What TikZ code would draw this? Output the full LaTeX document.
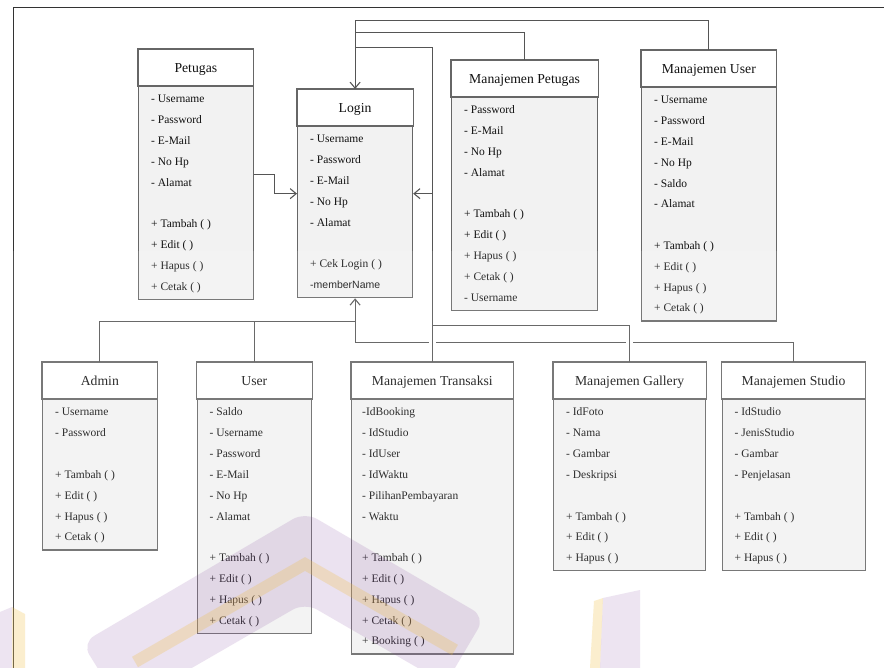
\documentclass[tikz,border=0pt]{standalone}
\usepackage{fontspec}
\setmainfont{Liberation Serif}
\newfontfamily\membersans{Liberation Sans}
\usetikzlibrary{arrows.meta,calc}

\definecolor{edgegray}{HTML}{666666}
\definecolor{bodyfill}{HTML}{F2F2F2}
\definecolor{wiregray}{HTML}{555555}
\definecolor{framepen}{HTML}{333333}
\definecolor{textink}{HTML}{111111}
\definecolor{wmpurple}{RGB}{120,50,150}
\definecolor{wmyellow}{RGB}{240,190,60}

\tikzset{
  classframe/.style={rectangle, draw=edgegray, line width=1.2pt, fill=bodyfill,
    inner sep=0pt, anchor=north west},
  headband/.style={draw=edgegray, line width=1.2pt, fill=white},
  classtitle/.style={anchor=base, inner sep=0pt, text=textink,
    font=\fontsize{13.7}{15}\selectfont},
  member/.style={anchor=base west, inner sep=0pt, text=textink,
    font=\fontsize{11.5}{13}\selectfont},
  wire/.style={draw=wiregray, line width=1.1pt},
  tip/.style={-{Straight Barb[length=6pt,width=10pt]}}
}

% #1 name, #2 left, #3 top, #4 width, #5 number of rows,
% #6 text inset, #7 title, #8 member rows
\newcommand{\umlclass}[8]{%
  \pgfmathsetmacro{\clsh}{62.5+(#5-1)*20.8}
  \node[classframe, minimum width=#4pt, minimum height=\clsh pt] (#1) at (#2,#3) {};
  \draw[headband] (#1.north west) rectangle ([yshift=-37pt]#1.north east);
  \node[classtitle] at ([yshift=-23.1pt]#1.north) {#7};
  \foreach \m [count=\i] in {#8}{
    \pgfmathsetmacro{\rowy}{54+(\i-1)*20.8}
    \node[member] at ([xshift=#6pt, yshift=-\rowy pt]#1.north west) {\m};
  }
}

\begin{document}
\begin{tikzpicture}[x=1pt, y=-1pt]
\useasboundingbox (0,0) rectangle (884,668);
\fill[white] (0,0) rectangle (884,668);

% page frame
\draw[framepen, line width=0.9pt] (884,7.5) -- (13,7.5) -- (13,668);

% classes
\umlclass{petugas}{138}{49}{114.5}{10}{13}{Petugas}%
  {- Username, - Password, - E-Mail, - No Hp, - Alamat, {}, + Tambah ( ), + Edit ( ), + Hapus ( ), + Cetak ( )}
\umlclass{login}{297}{89}{115}{8}{13}{Login}%
  {- Username, - Password, - E-Mail, - No Hp, - Alamat, {}, + Cek Login ( ), {\membersans\fontsize{10.5}{12}\selectfont -memberName}}
\umlclass{mp}{451}{60}{146}{10}{13}{Manajemen Petugas}%
  {- Password, - E-Mail, - No Hp, - Alamat, {}, + Tambah ( ), + Edit ( ), + Hapus ( ), + Cetak ( ), - Username}
\umlclass{mu}{641}{50}{134.5}{11}{13}{Manajemen User}%
  {- Username, - Password, - E-Mail, - No Hp, - Saldo, - Alamat, {}, + Tambah ( ), + Edit ( ), + Hapus ( ), + Cetak ( )}
\umlclass{admin}{42}{362}{114.5}{7}{13}{Admin}%
  {- Username, - Password, {}, + Tambah ( ), + Edit ( ), + Hapus ( ), + Cetak ( )}
\umlclass{user}{196.5}{362}{114.5}{11}{13}{User}%
  {- Saldo, - Username, - Password, - E-Mail, - No Hp, - Alamat, {}, + Tambah ( ), + Edit ( ), + Hapus ( ), + Cetak ( )}
\umlclass{trans}{351}{362}{161.5}{12}{11}{Manajemen Transaksi}%
  {-IdBooking, - IdStudio, - IdUser, - IdWaktu, - PilihanPembayaran, - Waktu, {}, + Tambah ( ), + Edit ( ), + Hapus ( ), + Cetak ( ), + Booking ( )}
\umlclass{gallery}{553}{362}{152}{8}{13}{Manajemen Gallery}%
  {- IdFoto, - Nama, - Gambar, - Deskripsi, {}, + Tambah ( ), + Edit ( ), + Hapus ( )}
\umlclass{studio}{721.5}{362}{143}{8}{13}{Manajemen Studio}%
  {- IdStudio, - JenisStudio, - Gambar, - Penjelasan, {}, + Tambah ( ), + Edit ( ), + Hapus ( )}

% bends of the shared connector runs
\coordinate (topjoin) at ([yshift=68.3pt]login.north);
\coordinate (ujoin) at ([yshift=-23pt]login.south);
\coordinate (sbend) at ([yshift=-44pt]login.south);
\coordinate (gbend) at ([yshift=36.3pt]gallery.north);

% connectors into Login from above
\draw[wire, tip] (mu.north) |- (topjoin) -- (login.north);
\draw[wire] (mp.north) |- ([yshift=56.7pt]login.north);
\draw[wire] (trans.north) |- ([yshift=41.7pt]login.north);

% Petugas into the left side of Login
\draw[wire, tip] (petugas.east) -- ++(21,0) |- (login.west);

% connectors into Login from below
\draw[wire] (studio.north) |- (sbend) -- (ujoin);
\fill[white] ($(sbend -| trans.north)+(-3.5,-2.6)$) rectangle ++(7,5.2);
\fill[white] ($(sbend -| gallery.north)+(-3.5,-2.6)$) rectangle ++(7,5.2);
\draw[wire, tip] (admin.north) |- (ujoin) -- (login.south);
\draw[wire] (user.north) -- (user.north |- ujoin);
\draw[wire] (trans.north) -- ([yshift=41.7pt]login.north -| trans.north);
\draw[wire, tip] (gallery.north) -- (gbend) -- (gbend -| trans.north) |- (login.east);

% faint emblem across the lower part of the sheet
\fill[white, fill opacity=0.12] (0,251) rectangle (884,668);
\fill[wmpurple, fill opacity=0.14, rounded corners=14pt]
  (82,643) -- (305,512) -- (485,617) -- (445.5,684) -- (305,602.6) -- (122.5,708) -- cycle;
\draw[wmyellow, draw opacity=0.25, line width=12pt] (135,662) -- (305,564) -- (455,650);
\fill[wmpurple, fill opacity=0.13] (0,612) -- (12,607) -- (12,668) -- (0,668) -- cycle;
\fill[wmyellow, fill opacity=0.25] (12,607) -- (25,614) -- (25,668) -- (12,668) -- cycle;
\fill[wmyellow, fill opacity=0.25] (590,668) -- (594,601) -- (603,598) -- (600,668) -- cycle;
\fill[wmpurple, fill opacity=0.13] (600,668) -- (603,598) -- (640,590) -- (640,668) -- cycle;
\end{tikzpicture}
\end{document}
